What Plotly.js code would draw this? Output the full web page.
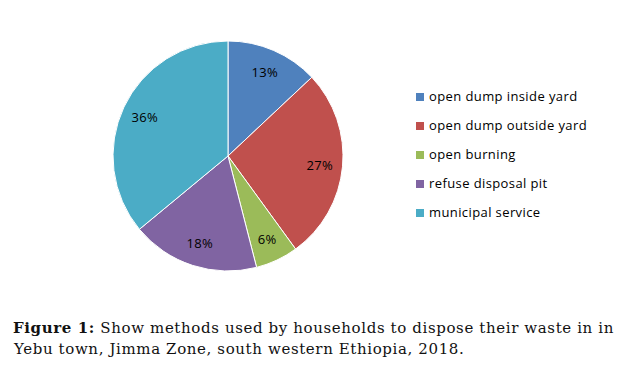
<!DOCTYPE html>
<html>
<head>
<meta charset="utf-8">
<script src="https://cdn.plot.ly/plotly-3.0.1.min.js"></script>
<style>html,body{margin:0;padding:0;background:#fff;}#chart{width:629px;height:381px;}</style>
</head>
<body>
<div id="chart"></div>
<script>
const categories = ["open dump inside yard", "open dump outside yard", "open burning", "refuse disposal pit", "municipal service"];
const shares = [13, 27, 6, 18, 36];
const colors = ["#4F81BD", "#C0504D", "#9BBB59", "#8064A2", "#4BACC6"];
const captionBold = "Figure 1:";
const captionLine1 = " Show methods used by households to dispose their waste in in";
const captionLine2 = "Yebu town, Jimma Zone, south western Ethiopia, 2018.";

const W = 629, H = 381;
const cx = 228, cy = 156, R = 115;

const trace = {
  type: "pie",
  labels: categories,
  values: shares,
  sort: false,
  direction: "clockwise",
  rotation: 0,
  marker: {colors: colors, line: {color: "#ffffff", width: 1}},
  textinfo: "none",
  domain: {x: [(cx - R) / W, (cx + R) / W], y: [(H - cy - R) / H, (H - cy + R) / H]},
  showlegend: false,
  hoverinfo: "label+percent"
};

const annotations = [];
const spacing = [];
const shapes = [];

// slice percentage labels, placed at the mid-angle of each slice (0.8 radius)
const total = shares.reduce((a, b) => a + b, 0);
let cum = 0;
shares.forEach((v) => {
  const mid = (cum + v / 2) / total * 2 * Math.PI;
  cum += v;
  const px = cx + 0.8 * R * Math.sin(mid);
  const py = cy - 0.8 * R * Math.cos(mid);
  annotations.push({xref: "paper", yref: "paper", x: px / W, y: 1 - py / H,
    xanchor: "center", yanchor: "middle", showarrow: false, text: v + "%",
    font: {family: "Open Sans, Noto Sans, sans-serif", size: 13, color: "#000000"}});
  spacing.push("0.3px");
});

const legX = 416, legY0 = 97, legStep = 29, sq = 8;
categories.forEach((c, i) => {
  const y = legY0 + i * legStep;
  shapes.push({type: "rect", xref: "paper", yref: "paper",
    x0: legX / W, x1: (legX + sq) / W, y0: 1 - (y + sq / 2) / H, y1: 1 - (y - sq / 2) / H,
    fillcolor: colors[i], line: {width: 0}});
  annotations.push({xref: "paper", yref: "paper", x: (legX + 11) / W, y: 1 - (y - 1) / H,
    xanchor: "left", yanchor: "middle", align: "left", showarrow: false, text: c,
    font: {family: "Open Sans, Noto Sans, sans-serif", size: 13, color: "#000000"}});
  spacing.push("0.4px");
});
annotations.push({xref: "paper", yref: "paper", x: 11 / W, y: 1 - 328 / H, xanchor: "left", yanchor: "middle",
  showarrow: false, align: "left", text: "<b>" + captionBold + "</b>" + captionLine1,
  font: {family: "DejaVu Serif, serif", size: 15, color: "#111111"}});
spacing.push("0.62px");
annotations.push({xref: "paper", yref: "paper", x: 11 / W, y: 1 - 349 / H, xanchor: "left", yanchor: "middle",
  showarrow: false, align: "left", text: captionLine2,
  font: {family: "DejaVu Serif, serif", size: 15, color: "#111111"}});
spacing.push("0.62px");

Plotly.newPlot("chart", [trace], {
  width: W, height: H,
  margin: {l: 0, r: 0, t: 0, b: 0},
  paper_bgcolor: "#ffffff",
  showlegend: false,
  annotations: annotations,
  shapes: shapes
}, {displayModeBar: false, staticPlot: true}).then(() => {
  document.querySelectorAll("g.annotation").forEach((g) => {
    const idx = +g.getAttribute("data-index");
    const t = g.querySelector("text.annotation-text");
    if (t && spacing[idx]) t.style.letterSpacing = spacing[idx];
  });
});
</script>
</body>
</html>
